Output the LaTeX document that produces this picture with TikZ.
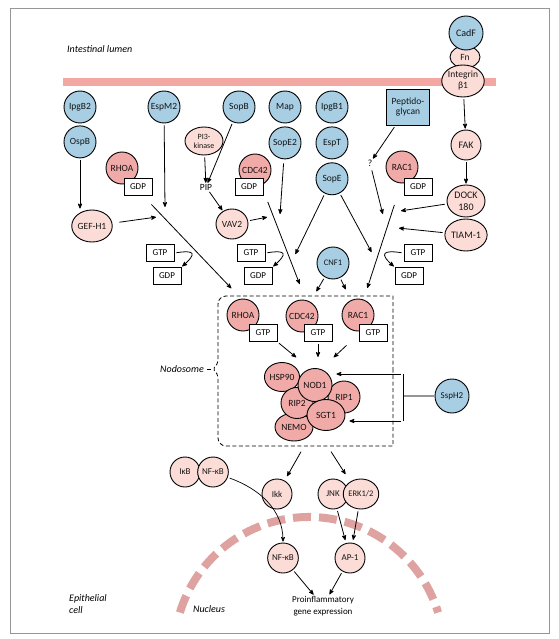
\documentclass[tikz,border=0pt]{standalone}
\usepackage{fontspec}
\setmainfont{Carlito}
\usetikzlibrary{arrows, positioning, shapes.geometric, calc}
\definecolor{effblue}{RGB}{168,206,228}
\definecolor{hostpink}{RGB}{240,170,168}
\definecolor{lightpink}{RGB}{251,220,215}
\definecolor{membrane}{RGB}{244,168,164}
\definecolor{nucpink}{RGB}{222,162,160}
\definecolor{framegray}{RGB}{150,150,150}

\begin{document}
\begin{tikzpicture}[x=1pt,y=1pt,>=stealth',
every node/.style={inner sep=0pt, font=\fontsize{9.5}{10.5}\selectfont},
effector/.style={circle, draw, line width=0.9pt, fill=effblue, text=effblue!10!black, minimum size=32pt},
host/.style={circle, draw, line width=0.9pt, fill=hostpink, text=hostpink!10!black, minimum size=32pt},
hostl/.style={ellipse, draw, line width=0.9pt, fill=lightpink, text=lightpink!10!black, minimum width=30pt, minimum height=30pt},
cplx/.style={ellipse, draw, line width=0.9pt, fill=hostpink, text=hostpink!10!black},
gbox/.style={rectangle, draw, line width=0.9pt, fill=white, minimum width=28pt, minimum height=17pt, font=\fontsize{9}{10}\selectfont},
tag/.style={font=\fontsize{10}{12}\selectfont\itshape}]

\useasboundingbox (0,0) rectangle (558,-639);
\draw[framegray, line width=0.8pt] (10.5,-8) rectangle (549.5,-633);

% membrane and nucleus
\fill[membrane] (63,-78) rectangle (496,-86);
\draw[nucpink, line width=8pt, dash pattern=on 18pt off 8pt] (309,-652) ++(163:135) arc (163:17:135);

\node[tag, anchor=west] (lumen) at (67,-49) {Intestinal lumen};
\node[tag, anchor=west, align=left] (epi) at (69,-604) {Epithelial\\cell};
\node[tag] (nucl) at (209,-609) {Nucleus};

% integrin column
\node[hostl, minimum width=30pt, minimum height=22pt] (Fn) at (465,-57) {Fn};
\node[effector, minimum size=34pt, font=\fontsize{10}{11}\selectfont] (CadF) at (466,-33) {CadF};
\node[hostl, minimum width=39pt, minimum height=32pt, align=center, font=\fontsize{9.5}{11}\selectfont] (ItgB1) at (463,-81) {Integrin\\β1};
\node[hostl, font=\fontsize{10}{11}\selectfont] (FAK) at (466,-145) {FAK};
\node[hostl, minimum width=38pt, minimum height=32pt, align=center, font=\fontsize{10}{12}\selectfont] (DOCK) at (466,-201) {DOCK\\180};
\node[hostl, minimum width=38pt, minimum height=32pt, font=\fontsize{10}{11}\selectfont] (TIAM) at (466,-235) {TIAM-1};

% effectors
\node[effector] (IpgB2) at (80,-107) {IpgB2};
\node[effector] (OspB) [below=2pt of IpgB2] {OspB};
\node[effector] (EspM2) at (164,-107) {EspM2};
\node[effector] (SopB) at (239,-107) {SopB};
\node[effector] (Map) at (285,-107) {Map};
\node[effector] (SopE2) [below=3pt of Map] {SopE2};
\node[effector] (IpgB1) at (332,-107) {IpgB1};
\node[effector] (EspT) [below=3pt of IpgB1] {EspT};
\node[effector] (SopE) [below=3pt of EspT] {SopE};
\node[effector, rectangle, minimum width=43pt, minimum height=36pt, align=center] (PGN) at (408,-107) {Peptido-\\glycan};
\node[effector, font=\fontsize{8.5}{9}\selectfont] (CNF1) at (333,-263) {CNF1};
\node[effector, minimum size=34pt, font=\fontsize{9}{10}\selectfont] (SspH2) at (452,-396) {SspH2};

% GDP bound forms
\node[hostl, minimum width=38pt, minimum height=28pt, align=center, font=\fontsize{8}{9}\selectfont] (PI3K) at (204,-141) {PI3-\\kinase};
\node (PIP) at (206,-187) {PIP};
\node (quest) at (370,-163) {?};
\node[host] (RHOA) at (122,-168) {RHOA};
\node[gbox] (RHOAgdp) at (138,-187) {GDP};
\node[host] (CDC42) at (255,-170) {CDC42};
\node[gbox] (CDC42gdp) at (249,-187) {GDP};
\node[host] (RAC1) at (402,-167) {RAC1};
\node[gbox] (RAC1gdp) at (418,-187) {GDP};
\node[hostl, minimum width=38pt, minimum height=32pt] (GEFH1) at (92,-226) {GEF-H1};
\node[hostl, minimum width=32pt] (VAV2) at (232,-224) {VAV2};

\node[gbox] (GTPa) at (160,-253) {GTP};
\node[gbox] (GDPa) at (167,-276) {GDP};
\node[gbox] (GTPb) at (251,-253) {GTP};
\node[gbox] (GDPb) at (258,-276) {GDP};
\node[gbox] (GTPc) at (418,-253) {GTP};
\node[gbox] (GDPc) at (409,-276) {GDP};

% nodosome
\draw[line width=0.8pt, dash pattern=on 4pt off 2.5pt]
  (393,-371) -- (393,-296) -- (300,-296)
  [rounded corners=8pt] -- (218,-296) -- (218,-330)
  [rounded corners=2pt] -- (218,-363) -- (213,-369) -- (218,-375) -- (218,-400)
  [rounded corners=8pt] -- (218,-446) -- (300,-446)
  [sharp corners] -- (393,-446) -- cycle;
\coordinate (kink) at (213,-369);
\node[tag] (nodolbl) at (182,-369) {Nodosome};

\node[host] (RHOAn) at (243,-315) {RHOA};
\node[gbox] (RHOAgtp) at (263,-333) {GTP};
\node[host] (CDC42n) at (302,-316) {CDC42};
\node[gbox] (CDC42gtp) at (318,-333) {GTP};
\node[host] (RAC1n) at (358,-315) {RAC1};
\node[gbox] (RAC1gtp) at (373,-333) {GTP};

\node[cplx, minimum width=34pt, minimum height=29pt] (HSP90) at (282,-377) {HSP90};
\node[cplx, minimum width=32pt, minimum height=32pt] (RIP1) at (344,-397) {RIP1};
\node[cplx, minimum width=38pt, minimum height=28pt] (NEMO) at (294,-427) {NEMO};
\node[cplx, minimum width=32pt, minimum height=31pt] (RIP2) at (297,-403) {RIP2};
\node[cplx, minimum width=34pt, minimum height=33pt] (NOD1) at (315,-385) {NOD1};
\node[cplx, minimum width=38pt, minimum height=31pt] (SGT1) at (326,-415) {SGT1};

% downstream
\node[hostl, font=\fontsize{9}{10}\selectfont] (IkB) at (185,-472) {IκB};
\node[hostl, font=\fontsize{9}{10}\selectfont] (NFkB) at (213,-472) {NF-κB};
\node[hostl, font=\fontsize{9}{10}\selectfont] (Ikk) at (277,-494) {Ikk};
\node[hostl, font=\fontsize{9}{10}\selectfont] (JNK) at (333,-494) {JNK};
\node[hostl, font=\fontsize{8.5}{10}\selectfont] (ERK) at (361,-494) {ERK1/2};
\node[hostl, font=\fontsize{9}{10}\selectfont] (NFkBn) at (283,-558) {NF-κB};
\node[hostl, font=\fontsize{9}{10}\selectfont] (AP1) at (350,-558) {AP-1};
\node[align=center, font=\fontsize{9}{11.5}\selectfont] (gene) at (323,-606) {Proinflammatory\\gene expression};

\coordinate (espE) at (165,-208);
\coordinate (gefE) at (157,-217);
\coordinate (rhoaS) at (150,-203);
\coordinate (rhoaE) at (232,-289);
\coordinate (vavE) at (268,-217);
\coordinate (sope2E) at (280,-215);
\coordinate (cdcS) at (267,-200);
\coordinate (cdcE) at (300,-285);
\coordinate (sopeL) at (295,-255);
\coordinate (sopeR) at (372,-253);
\coordinate (questE) at (383,-215);
\coordinate (racS) at (395,-203);
\coordinate (racE) at (367,-289);
\coordinate (dockE) at (400,-211);
\coordinate (tiamE) at (398,-228);
\coordinate (rhoaC) at (297,-358);
\coordinate (cdcC) at (318,-358);
\coordinate (racA) at (348,-344);
\coordinate (racC) at (333,-358);
\coordinate (brT) at (403,-374);
\coordinate (brB) at (403,-421);
\coordinate (nodoL) at (302,-450);
\coordinate (nodoR) at (330,-450);
\coordinate (mapkE) at (346,-475);

\tikzset{act/.style={->, line width=0.8pt, shorten >=1pt, shorten <=2pt}}
\path (ItgB1) edge[act] (FAK);
\path (FAK) edge[act] (DOCK);
\path (OspB) edge[act] (OspB |- GEFH1.north);
\path (EspM2) edge[act] (espE);
\path (GEFH1) edge[act, shorten <=7pt] (gefE);
\path (rhoaS) edge[act] (rhoaE);
\path (SopB) edge[act] (PIP);
\path (PI3K) edge[act] (PIP);
\path (PIP) edge[act] (VAV2);
\path (VAV2) edge[act] (vavE);
\path (SopE2) edge[act, shorten <=4pt] (sope2E);
\path (cdcS) edge[act] (cdcE);
\path (SopE) edge[act] (sopeL);
\path (SopE) edge[act] (sopeR);
\path (PGN) edge[act] (quest);
\path (quest) edge[act, shorten <=4pt] (questE);
\path (racS) edge[act] (racE);
\path (DOCK) edge[act] (dockE);
\path (TIAM) edge[act] (tiamE);
\path (CNF1) edge[act, shorten >=12pt] (CDC42n);
\path (CNF1) edge[act, shorten >=12pt] (RAC1n);

\draw[act] (GTPa.east) .. controls +(20,3) and +(16,14) .. (GDPa.north east);
\draw[act] (GTPb.east) .. controls +(20,3) and +(16,14) .. (GDPb.north east);
\draw[act] (GTPc.west) .. controls +(-20,3) and +(-16,14) .. (GDPc.north west);

\path (RHOAgtp.south east) edge[act] (rhoaC);
\path (CDC42gtp.south) edge[act] (cdcC);
\path (racA) edge[act] (racC);

\draw[line width=0.8pt, shorten <=3pt, shorten >=2pt] (nodolbl.east) -- (kink);
\draw[framegray, line width=1.2pt] (SspH2.west) -- (SspH2.west -| brT);
\draw[line width=0.8pt] (brT) -- (brB);
\path (brT) edge[act, shorten >=4pt] (brT -| NOD1.east);
\path (brB) edge[act, shorten >=4pt] (brB -| SGT1.east);

\path (nodoL) edge[act, shorten >=5pt] (Ikk);
\path (nodoR) edge[act] (mapkE);
\draw[act, line width=0.7pt] (NFkB) to[out=-20, in=90] (NFkBn);
\path (JNK) edge[act, shorten >=3pt] (AP1);
\path (ERK) edge[act, shorten >=3pt] (AP1);
\path (NFkBn) edge[act, shorten >=2pt] (gene);
\path (AP1) edge[act, shorten >=2pt] (gene);

\end{tikzpicture}
\end{document}
